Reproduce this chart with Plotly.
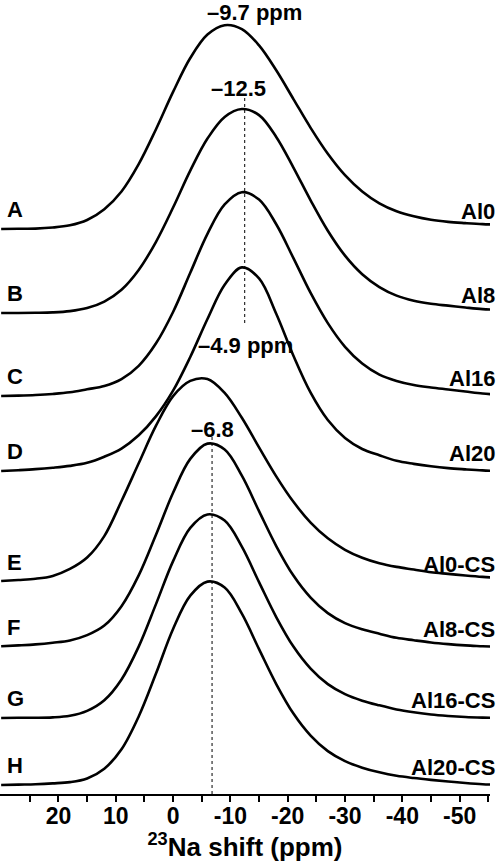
import plotly.graph_objects as go

# 23Na MAS NMR spectra, normalised intensity
left_labels = ['A', 'B', 'C', 'D', 'E', 'F', 'G', 'H']
right_labels = ['Al0', 'Al8', 'Al16', 'Al20', 'Al0-CS', 'Al8-CS', 'Al16-CS', 'Al20-CS']

# common chemical-shift grid (ppm), 30 ... -57 in 3 ppm steps
shift = [30, 27, 24, 21, 18, 15, 12, 9, 6, 3, 0, -3, -6, -9, -12,
         -15, -18, -21, -24, -27, -30, -33, -36, -39, -42, -45, -48, -51, -54, -57]

int_a = [0.0, 0.001, 0.002, 0.007, 0.018, 0.044, 0.097, 0.184, 0.318, 0.488, 0.672, 0.838, 0.953, 0.999, 0.980,
         0.90, 0.778, 0.637, 0.496, 0.369, 0.264, 0.184, 0.126, 0.087, 0.062, 0.045, 0.035, 0.029, 0.024, 0.021]
int_b = [0.0, 0.0, 0.001, 0.003, 0.009, 0.024, 0.056, 0.114, 0.211, 0.348, 0.517, 0.698, 0.855, 0.961, 1.0,
         0.970, 0.863, 0.713, 0.552, 0.403, 0.281, 0.190, 0.127, 0.085, 0.060, 0.045, 0.036, 0.027, 0.019, 0.015]
int_c = [0.0, 0.002, 0.005, 0.01, 0.018, 0.033, 0.049, 0.083, 0.148, 0.257, 0.412, 0.604, 0.795, 0.939, 0.999,
         0.963, 0.842, 0.676, 0.505, 0.357, 0.241, 0.159, 0.105, 0.074, 0.054, 0.042, 0.032, 0.022, 0.012, 0.006]
int_d = [0.0, 0.004, 0.009, 0.016, 0.025, 0.040, 0.07, 0.11, 0.175, 0.268, 0.394, 0.559, 0.745, 0.913, 0.998,
         0.944, 0.771, 0.565, 0.384, 0.25, 0.162, 0.108, 0.077, 0.05, 0.035, 0.023, 0.014, 0.008, 0.003, 0.0]
int_e = [0.005, 0.01, 0.016, 0.03, 0.064, 0.12, 0.225, 0.397, 0.582, 0.765, 0.911, 0.986, 0.995, 0.927, 0.805,
         0.66, 0.518, 0.393, 0.291, 0.214, 0.158, 0.119, 0.092, 0.074, 0.061, 0.048, 0.04, 0.032, 0.025, 0.02]
int_f = [0.004, 0.008, 0.013, 0.021, 0.032, 0.058, 0.105, 0.20, 0.351, 0.549, 0.756, 0.922, 0.997, 0.968, 0.84,
         0.666, 0.495, 0.35, 0.242, 0.166, 0.117, 0.087, 0.065, 0.045, 0.033, 0.022, 0.014, 0.008, 0.004, 0.0]
int_g = [0.0, 0.001, 0.001, 0.003, 0.011, 0.035, 0.087, 0.189, 0.35, 0.557, 0.769, 0.932, 0.998, 0.968, 0.84,
         0.666, 0.495, 0.35, 0.242, 0.166, 0.117, 0.085, 0.062, 0.042, 0.028, 0.017, 0.010, 0.005, 0.002, 0.0]
int_h = [0.0, 0.002, 0.004, 0.008, 0.014, 0.032, 0.08, 0.175, 0.336, 0.545, 0.765, 0.928, 0.997, 0.968, 0.84,
         0.666, 0.495, 0.35, 0.242, 0.166, 0.117, 0.085, 0.062, 0.045, 0.034, 0.025, 0.017, 0.010, 0.004, 0.0]

peak_a = -9.7
peak_bcd = -12.5
peak_e = -4.9
peak_fgh = -6.8

tick_vals = [20, 10, 0, -10, -20, -30, -40, -50]
tick_text = ['20', '10', '0', '-10', '-20', '-30', '-40', '-50']

spectra = [int_a, int_b, int_c, int_d, int_e, int_f, int_g, int_h]

# vertical stacking (plot units = pixels above the axis line)
offsets = [565, 481, 398, 323, 212, 147, 76, 9]
scale = 204

font_family = 'Arial, Liberation Sans, sans-serif'
bold = dict(family=font_family, size=22, color='black', weight='bold')

fig = go.Figure()

for y, off in zip(spectra, offsets):
    fig.add_trace(go.Scatter(x=shift, y=[off + scale * v for v in y],
                             mode='lines',
                             line=dict(color='black', width=2.6, shape='spline', smoothing=1.0),
                             showlegend=False, hoverinfo='skip'))

# dotted guides through the peak maxima
fig.add_shape(type='line', x0=peak_bcd, x1=peak_bcd,
              y0=offsets[3] + 148, y1=offsets[1] + scale + 14,
              line=dict(color='black', width=1, dash='dot'))
fig.add_shape(type='line', x0=peak_fgh, x1=peak_fgh,
              y0=0, y1=offsets[5] + scale + 8,
              line=dict(color='black', width=1, dash='dot'))

for lab, off in zip(left_labels, offsets):
    fig.add_annotation(x=0.01, xref='paper', y=off + 20, yanchor='middle',
                       xanchor='left', text=lab, showarrow=False, font=bold)
for lab, off in zip(right_labels, offsets):
    fig.add_annotation(x=1.014, xref='paper', y=off + 18, yanchor='middle',
                       xanchor='right', text=lab, showarrow=False, font=bold)

fig.add_annotation(x=peak_a, y=offsets[0] + scale + 13, yanchor='middle', xanchor='center',
                   xshift=26, text='–9.7 ppm', showarrow=False, font=bold)
fig.add_annotation(x=peak_bcd, y=offsets[1] + scale + 21, yanchor='middle', xanchor='center',
                   xshift=-6, text='–12.5', showarrow=False, font=bold)
fig.add_annotation(x=peak_e, y=offsets[4] + scale + 33, yanchor='middle', xanchor='center',
                   xshift=44, text='–4.9 ppm', showarrow=False, font=bold)
fig.add_annotation(x=peak_fgh, y=offsets[5] + scale + 14, yanchor='middle', xanchor='center',
                   text='–6.8', showarrow=False, font=bold)

fig.update_layout(
    width=498, height=866,
    margin=dict(l=0, r=8, t=0, b=72),
    plot_bgcolor='white', paper_bgcolor='white',
    xaxis=dict(range=[30.2, -55.3], showgrid=False, zeroline=False,
               showline=True, linecolor='black', linewidth=2,
               ticks='outside', ticklen=6, tickwidth=2, tickcolor='black',
               tickmode='array', tickvals=tick_vals, ticktext=tick_text,
               ticklabelstandoff=-6,
               tickfont=dict(family=font_family, size=23, color='black', weight='bold'),
               minor=dict(tickmode='array', tickvals=[v - 5 for v in tick_vals] + [25],
                          ticks='outside', ticklen=6, tickwidth=2, tickcolor='black'),
               title=dict(text='<sup>23</sup>Na shift (ppm)', standoff=2,
                          font=dict(family=font_family, size=26, color='black', weight='bold'))),
    yaxis=dict(range=[0, 794], visible=False, fixedrange=True),
)

fig.write_html('out.html', config={'displayModeBar': False},
               post_script="document.body.style.margin='0';")
